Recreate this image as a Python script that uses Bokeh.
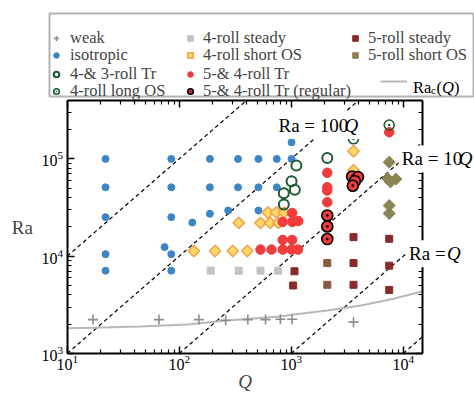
import math
from bokeh.plotting import figure
from bokeh.models import (LogAxis, FixedTicker, Legend, LegendItem, Label, Range1d,
                          BoxAnnotation)
from bokeh.embed import file_html
from bokeh.resources import INLINE

# ---------------- data ----------------
weak_Q = [17, 66, 150, 260, 410, 590, 800, 1020, 3600]
weak_Ra = [2230, 2230, 2230, 2200, 2230, 2230, 2250, 2250, 2100]

iso_Q = [22, 22, 22, 22, 22, 85, 85, 85, 85, 85, 74, 131, 188, 188, 188, 274,
         335, 335, 510, 510, 510, 743, 743, 1007, 1007]
iso_Ra = [1e5, 5.1e4, 2.52e4, 1.05e4, 7.1e3, 1e5, 5.1e4, 2.52e4, 1.05e4, 7.1e3,
          1.24e4, 2.22e4, 1e5, 5.1e4, 2.73e4, 2.95e4, 1e5, 5.1e4, 1e5, 5.1e4,
          2.95e4, 1e5, 5.1e4, 1e5, 1.48e5]

tr43_Q = [1112, 1007, 1077, 859, 859, 2100]
tr43_Ra = [8.55e4, 5.9e4, 4.81e4, 4.44e4, 3.4e4, 1.02e5]

long4_Q = [3600, 7500]
long4_Ra = [1.61e5, 2.23e5]

steady4_Q = [191, 340, 532, 765]
steady4_Ra = [7.1e3, 7.1e3, 7.1e3, 7.1e3]

short4_Q = [135, 209, 301, 405, 340, 532, 650, 770, 618, 735, 866, 3600, 3600]
short4_Ra = [1.13e4, 1.13e4, 1.13e4, 1.13e4, 2.2e4, 2.2e4, 2.2e4, 2.2e4,
             2.81e4, 2.81e4, 2.81e4, 1.2e5, 7.65e4]

tr54_Q = [532, 667, 840, 1007, 1150, 840, 1020, 840, 1020, 1156, 1020,
          2100, 2100, 2100, 2100, 7500]
tr54_Ra = [1.17e4, 1.17e4, 1.17e4, 1.17e4, 1.17e4, 1.47e4, 1.47e4, 2.25e4,
           2.25e4, 2.3e4, 2.78e4, 7.2e4, 5.1e4, 4.73e4, 3.59e4, 1.88e5]

reg_Q = [2100, 2100, 2100, 3500, 3950, 3700, 3550]
reg_Ra = [2.62e4, 2.02e4, 1.5e4, 6.6e4, 6.5e4, 5.9e4, 5.3e4]

steady5_Q = [1070, 1040, 3600, 3600, 3600, 7500, 7500, 7500]
steady5_Ra = [7.0e3, 5.0e3, 1.57e4, 8.5e3, 5.08e3, 1.51e4, 8.0e3, 4.5e3]

mixed_Q = [2100, 2100]
mixed_Ra = [8.5e3, 5.08e3]

short5_Q = [7500, 7250, 8600, 7700, 7500, 7500]
short5_Ra = [9.25e4, 6.3e4, 6.2e4, 5.8e4, 3.32e4, 2.75e4]

rac_Q = [10, 17, 45, 118, 268, 800, 1050, 2100, 4200, 8200, 13300, 15000]
rac_Ra = [1820, 1836, 1895, 1987, 2184, 2401, 2517, 2767, 3114, 3648, 4207, 4350]

ratio_vals = [1000, 100, 10, 1, 0.1]

Q_MIN, Q_MAX = 10, 1.5e4
RA_MIN, RA_MAX = 1e3, 4e5
x_major = [10, 100, 1000, 10000]
y_major = [1000, 10000, 100000]

SERIF = "Liberation Serif"
W, H = 474, 394
# pixel geometry of the axes box
BOX_L, BOX_B = 66.7, 353.0
PX_DEC_X, PX_DEC_Y = 112.0, 97.3

x_lo = 10 ** (1 - BOX_L / PX_DEC_X)
x_hi = 10 ** (1 + (W - BOX_L) / PX_DEC_X)
y_lo = 10 ** (3 - (H - BOX_B) / PX_DEC_Y)
y_hi = 10 ** (3 + BOX_B / PX_DEC_Y)

p = figure(width=W, height=H, x_axis_type="log", y_axis_type="log",
           x_range=Range1d(x_lo, x_hi), y_range=Range1d(y_lo, y_hi),
           output_backend="svg", toolbar_location=None, tools="",
           min_border_left=0, min_border_right=0, min_border_top=0,
           min_border_bottom=0)
p.title.visible = False
p.xgrid.visible = False
p.ygrid.visible = False
p.outline_line_color = None
p.background_fill_color = "white"
p.border_fill_color = "white"

def minors(majors, upper):
    out = []
    for m in majors:
        out += [m * k for k in range(2, 10) if m * k <= upper]
    return out

xt = FixedTicker(ticks=x_major, minor_ticks=minors([10, 100, 1000, 10000], Q_MAX))
yt = FixedTicker(ticks=y_major, minor_ticks=minors([1000, 10000, 100000], RA_MAX))

def style_axis(ax, labels=True, ticks_out=False):
    ax.axis_line_width = 2
    ax.axis_line_color = "black"
    if ticks_out:
        ax.major_tick_in, ax.major_tick_out = 0, 7
        ax.minor_tick_in, ax.minor_tick_out = 0, 4
    else:
        ax.major_tick_in, ax.major_tick_out = 7, 0
        ax.minor_tick_in, ax.minor_tick_out = 4, 0
    ax.major_tick_line_width = 1.5
    ax.minor_tick_line_width = 1.2
    ax.major_tick_line_color = "black"
    ax.minor_tick_line_color = "black"
    ax.major_label_text_font = SERIF
    ax.major_label_text_color = "black"
    if labels:
        ax.major_label_text_font_size = "16px"
    else:
        ax.major_label_text_font_size = "5px"
        ax.major_label_text_alpha = 0
        ax.major_label_standoff = 0

xa = p.xaxis[0]
ya = p.yaxis[0]
xa.ticker = xt
ya.ticker = yt
xa.fixed_location = RA_MIN
ya.fixed_location = Q_MIN
xa.bounds = (Q_MIN, Q_MAX)
ya.bounds = (RA_MIN, RA_MAX)
style_axis(xa)
style_axis(ya)
xa.major_label_standoff = 1
ya.major_label_standoff = 4
xa.axis_label = "Q"
xa.axis_label_text_font = SERIF
xa.axis_label_text_font_style = "italic"
xa.axis_label_text_font_size = "19px"
xa.axis_label_standoff = -2
ya.axis_label = "Ra"
ya.axis_label_text_font = SERIF
ya.axis_label_text_font_style = "normal"
ya.axis_label_text_font_size = "19px"
ya.axis_label_orientation = "horizontal"
ya.axis_label_standoff = 6

# top and right edges of the box (ticks pointing into the box)
top = LogAxis(ticker=xt, fixed_location=RA_MAX, bounds=(Q_MIN, Q_MAX))
style_axis(top, labels=False)
p.add_layout(top, "above")
right = LogAxis(ticker=yt, fixed_location=Q_MAX, bounds=(RA_MIN, RA_MAX))
style_axis(right, labels=False, ticks_out=True)
p.add_layout(right, "left")

# reference lines Ra = c Q, kept inside the axes box (one segment renderer)
seg_q0 = [max(Q_MIN, RA_MIN / c) for c in ratio_vals]
seg_q1 = [min(Q_MAX, RA_MAX / c) for c in ratio_vals]
seg_r0 = [c * q for c, q in zip(ratio_vals, seg_q0)]
seg_r1 = [c * q for c, q in zip(ratio_vals, seg_q1)]
p.segment(x0=seg_q0, y0=seg_r0, x1=seg_q1, y1=seg_r1, line_color="black",
          line_width=1.2, line_dash="4 3")

r_rac = p.line(rac_Q, rac_Ra, line_color="#b8b8b8", line_width=2)

r_weak = p.scatter(weak_Q, weak_Ra, marker="cross", size=10, line_color="#8c8c8c",
                   line_width=1.6)
r_iso = p.scatter(iso_Q, iso_Ra, marker="circle", size=7, fill_color="#3d85c6",
                  line_color="#3d85c6")
r_st4 = p.scatter(steady4_Q, steady4_Ra, marker="square", size=7,
                  fill_color="#c3c3c3", line_color="#c3c3c3")
r_mix = p.scatter(mixed_Q, mixed_Ra, marker="square", size=7,
                  fill_color="#8a5a3e", line_color="#8a5a3e")
r_st5 = p.scatter(steady5_Q, steady5_Ra, marker="square", size=7,
                  fill_color="#8b2a2a", line_color="#8b2a2a")
r_sh4 = p.scatter(short4_Q, short4_Ra, marker="square", angle=math.pi / 4,
                  size=8, fill_color="#ffd966", line_color="#f2a04c",
                  line_width=1.5)
r_sh5 = p.scatter(short5_Q, short5_Ra, marker="square", angle=math.pi / 4,
                  size=8.5, fill_color="#8c8455", line_color="#8c8455")
r_tr54 = p.scatter(tr54_Q, tr54_Ra, marker="circle", size=9.5,
                   fill_color="#f03c3c", line_color="#f03c3c")
r_reg = p.scatter(reg_Q, reg_Ra, marker="circle_dot", size=11,
                  fill_color="#f03c3c", line_color="black", line_width=1.6)
r_tr43 = p.scatter(tr43_Q, tr43_Ra, marker="circle", size=10, fill_alpha=0,
                   line_color="#1e5a32", line_width=2)
r_long = p.scatter(long4_Q, long4_Ra, marker="circle_dot", size=10,
                   fill_alpha=0, line_color="#1e5a32", line_width=1.6)

# keep the strip right of the axes box clean
p.add_layout(BoxAnnotation(left=424.5, right=W, top=H - 98, bottom=H - 357,
                           left_units="screen", right_units="screen",
                           top_units="screen", bottom_units="screen",
                           fill_color="white", fill_alpha=1, line_alpha=0,
                           level="glyph"))

# ---- legend: one framed box, one transparent legend per entry ----
LEG_TOP, LEG_BOT = 13, 96
p.add_layout(BoxAnnotation(left=49, right=473, top=H - LEG_TOP, bottom=H - LEG_BOT,
                           left_units="screen", right_units="screen",
                           top_units="screen", bottom_units="screen",
                           fill_color="white", fill_alpha=1,
                           line_color="black", line_width=2, level="underlay"))

ITEM_H = 20
row_centers = [28.3, 45.7, 64.0, 81.0]

def legend_entry(label, rend, x, row, glyph_w=14, standoff=6, drop=9.5):
    bottom = row_centers[row] + ITEM_H / 2 + drop
    lg = Legend(items=[LegendItem(label=label, renderers=[rend])],
                location=(x, H - bottom), orientation="vertical",
                label_text_font=SERIF, label_text_font_size="16.5px",
                glyph_width=glyph_w, glyph_height=ITEM_H, label_height=ITEM_H,
                label_standoff=standoff, spacing=0, padding=0, margin=0,
                border_line_color=None, background_fill_color=None,
                background_fill_alpha=0)
    p.add_layout(lg)

legend_entry("weak", r_weak, 49, 0, standoff=7)
legend_entry("isotropic", r_iso, 49, 1, standoff=7)
legend_entry("4-& 3-roll Tr", r_tr43, 49, 2, standoff=7)
legend_entry("4-roll long OS", r_long, 49, 3, standoff=7)
legend_entry("4-roll steady", r_st4, 183, 0)
legend_entry("4-roll short OS", r_sh4, 183, 1)
legend_entry("5-& 4-roll Tr", r_tr54, 183, 2)
legend_entry("5-& 4-roll Tr (regular)", r_reg, 183, 3)
legend_entry("5-roll steady", r_st5, 348, 0)
legend_entry("5-roll short OS", r_sh5, 348, 1)
legend_entry(" ", r_rac, 380, 3, glyph_w=27, standoff=2, drop=0)

# Ra_c(Q) legend text (screen units from the canvas bottom-left)
lab_kw = dict(x_units="screen", y_units="screen", text_font=SERIF,
              text_color="black", text_baseline="alphabetic")
base_y = H - (row_centers[3] + 5.5)
p.add_layout(Label(x=412.5, y=base_y, text="Ra", text_font_size="16.5px", **lab_kw))
p.add_layout(Label(x=430.5, y=base_y - 3, text="c", text_font_size="11px", **lab_kw))
p.add_layout(Label(x=436, y=base_y, text="(", text_font_size="16.5px", **lab_kw))
p.add_layout(Label(x=441.5, y=base_y, text="Q", text_font_size="16.5px",
                   text_font_style="italic", **lab_kw))
p.add_layout(Label(x=453.5, y=base_y, text=")", text_font_size="16.5px", **lab_kw))

# line labels: white box over the line, italic Q after the prefix
def line_label(q, ra, prefix, offset, pad_spaces):
    kw = dict(text_font=SERIF, text_font_size="19px", text_color="black",
              text_baseline="alphabetic")
    p.add_layout(Label(x=q, y=ra, text=prefix + "\u00a0" * pad_spaces,
                       background_fill_color="white", background_fill_alpha=1,
                       padding=3, **kw))
    p.add_layout(Label(x=q, y=ra, x_offset=offset, text="Q",
                       text_font_style="italic", **kw))

line_label(724, 2.2e5, "Ra = 100", 69, 3)
line_label(9140, 1.0e5, "Ra = 10", 60, 2)
line_label(10600, 1.06e4, "Ra = ", 41, 3)

open("out.html", "w").write(file_html(p, INLINE))
